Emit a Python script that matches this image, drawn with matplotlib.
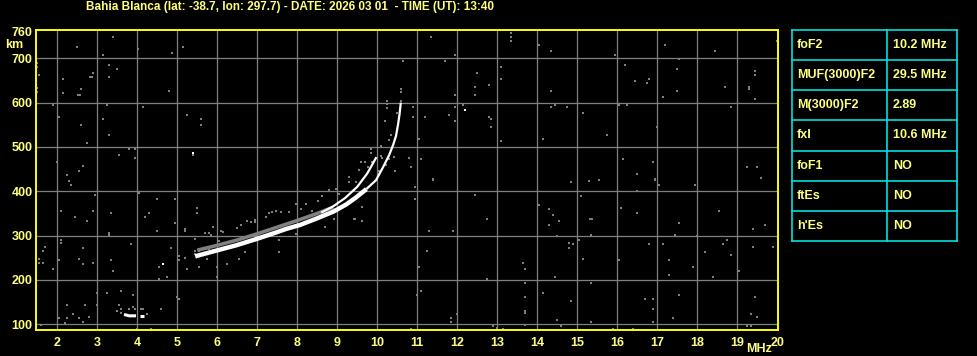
import numpy as np
import matplotlib.pyplot as plt

plt.rcParams['font.family'] = ['Liberation Sans', 'DejaVu Sans']
plt.rcParams['font.weight'] = 'bold'

title = "Bahia Blanca (lat: -38.7, lon: 297.7) - DATE: 2026 03 01  - TIME (UT): 13:40"

# main trace (MHz, km), thick lower part then thin top
trace_lo_mhz = [5.45, 5.52, 5.97, 6.47, 6.97, 7.47, 7.72, 8.07, 8.47, 8.9, 9.22, 9.47, 9.73]
trace_lo_km = [253, 255, 266, 278, 292, 307, 315, 324, 338, 354, 370, 386, 405]
trace_hi_mhz = [9.73, 9.97, 10.15, 10.3, 10.4, 10.47, 10.52, 10.56, 10.59]
trace_hi_km = [405, 425, 455, 482, 505, 525, 550, 575, 600]
# second (upper) branch
branch_mhz = [8.6, 8.9, 9.2, 9.5, 9.75, 9.98]
branch_km = [352, 366, 385, 410, 440, 477]
# gray smear just above the lower trace
band_mhz = [5.5, 6.0, 6.5, 7.0, 7.5, 8.0, 8.5, 8.9]
band_km = [267, 278, 290, 304, 319, 334, 350, 364]
# small low echo near 4 MHz
low_mhz = [3.67, 3.8, 3.97]
low_km = [122, 119, 119]
low2_mhz = [4.07, 4.17]
low2_km = [118, 118]

# gray echo spots around the trace
echo = [(5.44, 258), (5.44, 266), (5.54, 256), (5.54, 266), (5.64, 270), (5.72, 270), (5.8, 270),
        (5.69, 307), (5.79, 307), (5.84, 302), (5.89, 320), (6.04, 279), (6.04, 287),
        (6.09, 311), (6.14, 308), (6.44, 290), (6.49, 318), (6.59, 323), (6.74, 334),
        (6.84, 330), (6.94, 336), (6.94, 330), (7.09, 305), (7.22, 341), (7.3, 352),
        (7.38, 353), (7.47, 356), (7.59, 353), (7.8, 353), (7.97, 371), (8.09, 360),
        (8.22, 371), (8.38, 356), (8.51, 379), (8.63, 390), (8.8, 402), (8.97, 405),
        (9.05, 394), (9.3, 420), (9.47, 420), (9.63, 364), (9.43, 338), (9.63, 334),
        (8.93, 338), (8.7, 319), (7.97, 304), (10.59, 624), (10.59, 631), (10.24, 588),
        (10.24, 596), (10.24, 604), (10.59, 603), (10.19, 559), (10.49, 577), (10.34, 528),
        (10.29, 516), (10.44, 519), (10.09, 503), (9.84, 496), (9.84, 487), (10.09, 480),
        (10.13, 474), (10.3, 480), (10.3, 472), (10.42, 477), (10.22, 460), (10.01, 440),
        (10.05, 446), (9.6, 465), (9.69, 465), (9.54, 447), (9.29, 433), (9.76, 454),
        (9.88, 465), (3.49, 131), (3.54, 144), (3.59, 135), (3.79, 135), (3.89, 140),
        (3.94, 135), (4.09, 135), (4.14, 135), (4.24, 122), (3.59, 126)]

# scattered noise dots
noise = [(3.39, 749), (2.49, 726), (3.14, 708), (4.03, 722), (5.14, 726), (4.88, 713),
         (1.49, 690), (1.49, 681), (1.54, 663), (3.29, 686), (3.49, 676), (2.89, 667),
         (2.81, 658), (2.86, 658), (3.29, 658), (2.14, 654), (2.59, 631), (1.49, 625),
         (1.49, 632), (2.14, 622), (2.51, 617), (2.56, 617), (4.79, 626), (1.89, 595),
         (3.24, 595), (4.14, 590), (2.04, 567), (3.14, 563), (5.24, 572), (5.59, 563),
         (5.59, 549), (2.59, 549), (3.29, 526), (2.74, 508), (3.79, 495), (3.94, 495),
         (3.54, 481), (3.94, 476), (5.39, 483), (1.99, 467), (2.64, 458), (2.54, 445),
         (2.24, 436),
         (11.59, 763), (11.34, 749), (13.34, 758), (13.34, 749), (13.34, 740), (11.94, 708),
         (11.69, 695), (10.64, 695), (13.09, 681), (12.49, 667), (13.09, 654), (12.44, 636),
         (12.79, 640), (12.44, 617), (11.94, 617), (12.14, 595), (10.89, 590), (11.94, 590),
         (10.89, 567), (11.19, 567), (11.79, 572), (11.94, 558), (12.79, 567), (12.84, 563),
         (12.84, 545), (11.04, 517), (13.09, 513), (10.79, 476), (11.09, 472), (10.84, 454),
         (10.44, 445), (11.39, 426),
         (14.04, 731), (14.34, 717), (15.94, 708), (17.19, 731), (18.44, 717), (19.99, 740),
         (17.54, 699), (16.19, 686), (17.49, 676), (19.44, 672), (19.44, 663), (16.44, 649),
         (16.79, 654), (16.74, 645), (14.34, 626), (17.49, 626), (18.69, 636), (19.29, 630),
         (19.29, 636), (17.14, 613), (19.44, 608), (14.34, 590), (14.44, 595), (14.74, 590),
         (16.04, 595), (16.24, 595), (15.14, 577), (18.84, 590), (16.99, 545), (14.14, 517),
         (15.74, 526), (16.14, 472), (16.89, 467), (16.49, 440), (15.54, 426), (16.94, 426),
         (19.24, 454), (19.49, 454), (19.59, 431),
         (2.29, 424), (2.34, 415), (2.94, 392), (4.04, 397), (4.49, 383), (4.94, 383),
         (2.09, 356), (2.89, 356), (2.44, 343), (2.74, 334), (3.34, 352), (4.19, 343),
         (4.29, 352), (4.94, 329), (3.29, 301), (3.29, 307), (4.49, 311), (5.19, 310),
         (5.19, 316), (5.49, 363), (5.49, 350), (2.09, 283), (2.09, 289), (1.69, 275),
         (1.64, 266), (2.64, 271), (3.84, 280), (4.84, 271), (5.44, 293), (1.54, 248),
         (1.64, 239), (1.54, 239), (2.04, 244), (2.54, 248), (2.64, 235), (2.89, 239),
         (3.34, 244), (1.89, 225), (3.39, 221), (4.54, 230), (4.74, 207), (4.54, 203),
         (5.04, 253), (5.04, 246), (5.19, 250), (5.24, 225), (5.54, 230), (5.74, 248),
         (5.99, 230), (5.99, 207), (6.24, 235), (6.54, 248), (6.69, 262), (7.54, 289),
         (7.54, 262), (3.59, 176), (3.24, 171), (2.99, 171), (3.89, 167), (2.24, 144),
         (2.69, 144), (2.99, 144), (2.39, 122), (2.79, 117), (2.04, 113), (2.24, 113),
         (2.54, 113), (2.64, 104), (2.19, 103), (1.59, 99), (4.59, 135), (4.99, 162),
         (5.04, 158), (4.34, 90), (3.99, 90),
         (10.94, 410), (10.94, 383), (12.44, 392), (12.74, 338), (9.44, 338), (11.29, 311),
         (11.89, 311), (11.24, 266), (11.04, 230), (13.64, 239), (13.69, 225), (12.74, 203),
         (13.69, 194), (11.09, 176), (10.99, 167), (13.69, 162), (13.69, 125), (13.69, 131),
         (11.84, 113), (11.84, 104), (11.99, 122), (13.69, 99), (12.89, 95), (12.99, 92),
         (13.14, 90), (10.84, 90), (11.39, 428),
         (14.84, 420), (15.29, 424), (16.94, 428), (17.04, 415), (17.94, 415), (16.49, 401),
         (15.09, 390), (14.04, 370), (14.29, 361), (14.39, 347), (14.54, 334), (14.29, 325),
         (15.31, 338), (15.36, 338), (16.09, 363), (16.49, 352), (18.54, 356), (17.54, 329),
         (17.44, 302), (15.34, 302), (14.49, 298), (19.39, 316), (19.69, 325), (14.79, 284),
         (14.79, 273), (14.89, 280), (15.04, 289), (16.79, 280), (17.14, 280), (17.99, 298),
         (18.74, 289), (18.64, 280), (19.39, 275), (19.89, 275), (18.19, 262), (18.84, 257),
         (15.14, 248), (16.04, 244), (17.29, 244), (17.89, 230), (19.04, 221), (14.44, 207),
         (17.29, 212), (18.39, 207), (15.34, 194), (14.14, 171), (14.84, 153), (16.69, 158),
         (16.89, 158), (16.89, 135), (17.54, 167), (19.44, 162), (19.34, 122), (19.49, 117),
         (14.49, 110), (15.34, 104), (17.39, 113), (16.89, 104), (14.59, 95), (15.89, 90),
         (16.39, 90), (19.24, 95), (19.34, 95)]
white_dots = [(5.39, 487), (12.19, 583), (4.64, 235)]

x_ticks = list(range(2, 21))
y_ticks = [100, 200, 300, 400, 500, 600, 700, 760]

table_rows = ["foF2", "MUF(3000)F2", "M(3000)F2", "fxI", "foF1", "ftEs", "h'Es"]
table_vals = ["10.2 MHz", "29.5 MHz", "2.89", "10.6 MHz", "NO", "NO", "NO"]

YEL = '#ffff00'
TXT = '#ffff80'
CYAN = '#00e0e0'
GRAY = '#808080'

fig = plt.figure(figsize=(9.78, 3.56), dpi=100, facecolor='black')
ax = fig.add_axes([36 / 978, 1 - 330 / 356, 742 / 978, 300.3 / 356])
ax.set_facecolor('black')
ax.set_xlim(1.47, 20.02)
ax.set_ylim(87, 764.6)

for v in range(2, 20):
    ax.axvline(v, color=GRAY, lw=0.9, zorder=1)
for v in y_ticks[:-1]:
    ax.axhline(v, color=GRAY, lw=0.9, zorder=1)

nx, ny = zip(*noise)
ax.scatter(nx, ny, s=2.1, marker='s', color=GRAY, linewidths=0, zorder=2)
ex, ey = zip(*echo)
ax.scatter(ex, ey, s=4.5, marker='s', color=GRAY, linewidths=0, zorder=2)
ax.plot(band_mhz, band_km, color=GRAY, lw=2.6, solid_capstyle='butt', zorder=2)

ax.plot(trace_lo_mhz, trace_lo_km, color='white', lw=3.2, solid_capstyle='butt', zorder=3)
ax.plot(trace_hi_mhz, trace_hi_km, color='white', lw=1.6, solid_capstyle='butt', zorder=3)
ax.plot(branch_mhz, branch_km, color='white', lw=1.6, solid_capstyle='butt', zorder=3)
ax.plot(low_mhz, low_km, color='white', lw=2.2, solid_capstyle='butt', zorder=3)
ax.plot(low2_mhz, low2_km, color='white', lw=2.2, solid_capstyle='butt', zorder=3)
wx, wy = zip(*white_dots)
ax.scatter(wx, wy, s=2.1, marker='s', color='white', linewidths=0, zorder=3)

for s in ax.spines.values():
    s.set_color(YEL)
    s.set_linewidth(1.4)
ax.set_xticks(x_ticks)
ax.set_yticks(y_ticks)
ax.tick_params(length=0, labelcolor=TXT, labelsize=9)
ax.tick_params(axis='x', pad=5)
ax.tick_params(axis='y', pad=2.5)

fig.text(290 / 978, 1 - 7 / 356, title, color=TXT, fontsize=8.5, ha='center', va='center')
fig.text(5 / 978, 1 - 45 / 356, "km", color=TXT, fontsize=9, ha='left', va='center')
fig.text(759 / 978, 1 - 349 / 356, "MHz", color=TXT, fontsize=9, ha='center', va='center')

# parameter table
tab = fig.add_axes([792 / 978, 1 - 241 / 356, 165 / 978, 211 / 356])
tab.set_xlim(0, 165)
tab.set_ylim(7, 0)
tab.axis('off')
n = len(table_rows)
for i in range(n + 1):
    tab.plot([0, 165], [i, i], color=CYAN, lw=1.2, clip_on=False)
tab.plot([0, 0], [0, n], color=CYAN, lw=1.2, clip_on=False)
tab.plot([165, 165], [0, n], color=CYAN, lw=1.2, clip_on=False)
tab.plot([95, 95], [0, n], color=CYAN, lw=1.2, clip_on=False)
for i, (r, v) in enumerate(zip(table_rows, table_vals)):
    tab.text(5, i + 0.5, r, color=TXT, fontsize=9, ha='left', va='center')
    tab.text(101, i + 0.5, v, color=TXT, fontsize=9, ha='left', va='center')

fig.savefig('out.png', dpi=100, facecolor='black')
